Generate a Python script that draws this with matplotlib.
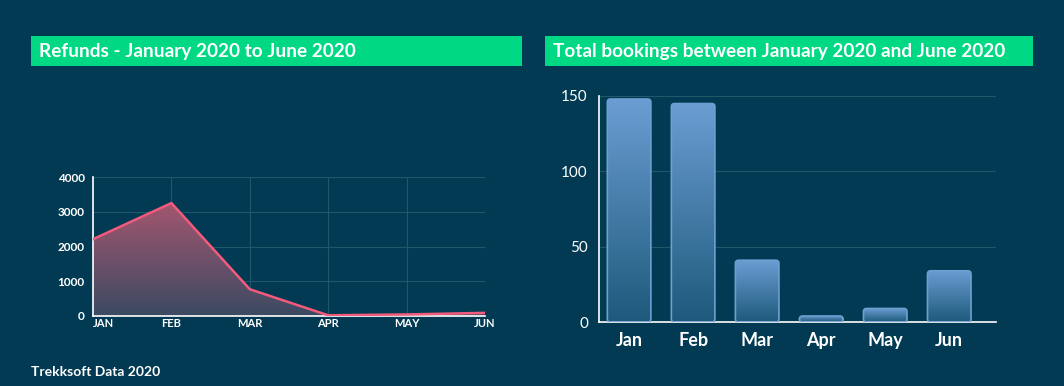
import numpy as np
import matplotlib
matplotlib.use("Agg")
import matplotlib.pyplot as plt
from matplotlib.colors import LinearSegmentedColormap
from matplotlib.patches import Rectangle, FancyBboxPatch

# data
months_upper = ["JAN", "FEB", "MAR", "APR", "MAY", "JUN"]
refunds = [2210, 3250, 770, 20, 45, 90]
months = ["Jan", "Feb", "Mar", "Apr", "May", "Jun"]
bookings = [148, 145, 41, 4, 9, 34]

BG = "#013a52"
GREEN = "#00d884"
GRID = "#1f5868"
W, H = 1064, 386

plt.rcParams["font.family"] = ["Lato", "DejaVu Sans"]

fig = plt.figure(figsize=(W / 100, H / 100), dpi=100, facecolor=BG)

# title banners
for x0, x1, txt in [(31, 522, "Refunds - January 2020 to June 2020"),
                    (545, 1033, "Total bookings between January 2020 and June 2020")]:
    fig.patches.append(Rectangle((x0 / W, 1 - 66 / H), (x1 - x0) / W, 30 / H,
                                 transform=fig.transFigure, facecolor=GREEN,
                                 edgecolor="none"))
    fig.text((x0 + 8) / W, 1 - 51 / H, txt, color="white", fontsize=13.7,
             fontweight="bold", va="center", ha="left")

fig.text(31 / W, 1 - 372 / H, "Trekksoft Data 2020", color="white",
         fontsize=10, fontweight="bold", va="center", ha="left")


def style_axes(ax):
    ax.set_facecolor(BG)
    for s in ("top", "right"):
        ax.spines[s].set_visible(False)
    for s in ("left", "bottom"):
        ax.spines[s].set_color("white")
        ax.spines[s].set_linewidth(1.2)
    ax.tick_params(colors="white", length=0)


# ---- left: refunds area chart
ax1 = fig.add_axes([93 / W, 1 - 316 / H, 392 / W, 139 / H])
style_axes(ax1)
x = np.arange(len(refunds))
ax1.set_xlim(0, len(refunds) - 1)
ax1.set_ylim(0, 4000)
ax1.set_yticks([0, 1000, 2000, 3000, 4000])
ax1.set_xticks(x)
ax1.set_xticklabels(months_upper, fontsize=8, fontweight="bold")
ax1.get_xticklabels()[0].set_horizontalalignment("left")
ax1.tick_params(axis="y", labelsize=8.5, pad=6)
ax1.tick_params(axis="x", pad=1.5)
for t in ax1.get_yticklabels():
    t.set_fontweight("bold")
ax1.grid(True, color=GRID, lw=0.8)
ax1.set_axisbelow(True)

fill = ax1.fill_between(x, refunds, 0, color="none", lw=0)
cmap_area = LinearSegmentedColormap.from_list("area", ["#3b4a62", "#a3566f"])
grad = np.linspace(0, 1, 256).reshape(-1, 1)
im = ax1.imshow(grad, cmap=cmap_area, origin="lower", aspect="auto",
                extent=[0, len(refunds) - 1, 0, max(refunds)], zorder=2)
im.set_clip_path(fill.get_paths()[0], transform=ax1.transData)
ax1.plot(x, refunds, color="#f35a7c", lw=1.8, zorder=3)
ax1.set_xlim(0, len(refunds) - 1)
ax1.set_ylim(0, 4000)

# ---- right: bookings bar chart
ax2 = fig.add_axes([599 / W, 1 - 322 / H, 397 / W, 226 / H])
style_axes(ax2)
xb = np.arange(len(bookings))
ax2.set_xlim(-0.47, 5.73)
ax2.set_ylim(0, 150)
ax2.set_yticks([0, 50, 100, 150])
ax2.yaxis.grid(True, color=GRID, lw=0.8)
ax2.set_axisbelow(True)
ax2.set_xticks(xb)
ax2.set_xticklabels(months, fontsize=13, fontweight="bold")
ax2.tick_params(axis="y", labelsize=11, pad=8)
ax2.tick_params(axis="x", pad=7)

bars = ax2.bar(xb, bookings, width=0.68, color="none", edgecolor="none")
cmap_bar = LinearSegmentedColormap.from_list("bar", ["#1d5a7b", "#6b9dd3"])
aspect = (150 / 226) / (6.2 / 397)
for r in bars:
    bx, by, bw, bh = r.get_x(), r.get_y(), r.get_width(), r.get_height()
    patch = FancyBboxPatch((bx, by), bw, bh,
                           boxstyle="round,pad=0,rounding_size=0.05",
                           mutation_aspect=aspect, facecolor="none",
                           edgecolor="#6f9fd2", lw=1.2, zorder=3)
    ax2.add_patch(patch)
    gi = ax2.imshow(grad, cmap=cmap_bar, origin="lower", aspect="auto",
                    extent=[bx, bx + bw, by, by + bh], zorder=2)
    gi.set_clip_path(patch)
ax2.set_xlim(-0.47, 5.73)
ax2.set_ylim(0, 150)

fig.savefig("out.png", dpi=100, facecolor=BG)
